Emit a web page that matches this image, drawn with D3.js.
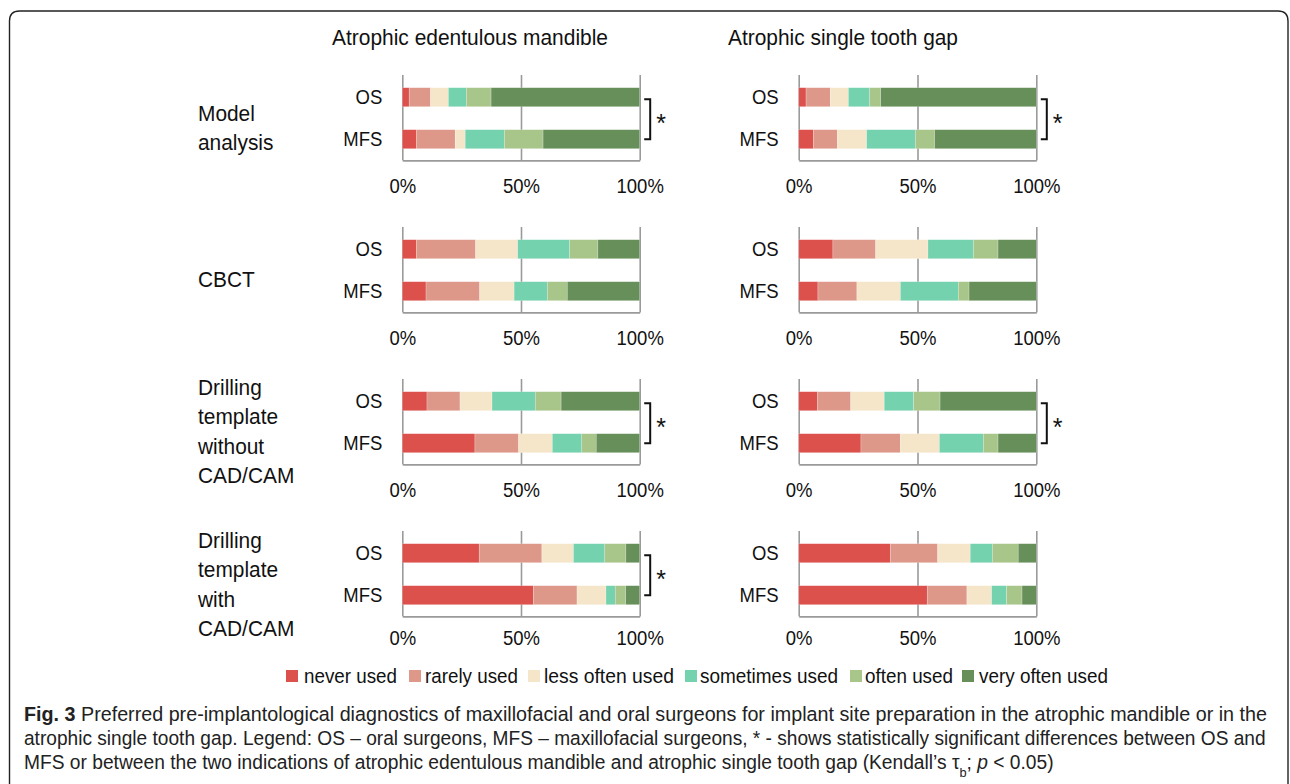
<!DOCTYPE html>
<html><head><meta charset="utf-8">
<script src="https://cdn.jsdelivr.net/npm/d3@7"></script>
<style>
html,body{margin:0;padding:0;background:#fff;}
svg{display:block;font-family:"Liberation Sans",Arial,sans-serif;}
</style></head>
<body>
<svg id="chart" width="1290" height="784"></svg>
<script>
// ---------- data ----------
const categories = ["never used","rarely used","less often used","sometimes used","often used","very often used"];
const colors = ["#DC514C","#DE988A","#F6E6C9","#74D2AE","#A8C58A","#668F59"];
const panels = ["Atrophic edentulous mandible","Atrophic single tooth gap"];
const rows = [["Model","analysis"],["CBCT"],["Drilling","template","without","CAD/CAM"],["Drilling","template","with","CAD/CAM"]];
const groups = ["OS","MFS"];
const tickValues = [0,50,100];
const tickLabels = ["0%","50%","100%"];

const mandibleOS = [
  [2.9, 9.0, 7.5, 7.6, 10.4, 62.6],
  [5.9, 25.0, 17.7, 21.9, 11.9, 17.6],
  [10.4, 13.9, 13.5, 18.2, 10.9, 33.1],
  [32.4, 26.4, 13.3, 13.2, 8.9, 5.8]];
const mandibleMFS = [
  [6.0, 16.3, 4.2, 16.5, 16.3, 40.7],
  [10.0, 22.6, 14.5, 14.0, 8.4, 30.5],
  [30.6, 18.4, 14.2, 12.4, 6.1, 18.3],
  [55.2, 18.4, 12.2, 3.9, 4.4, 5.9]];
const gapOS = [
  [3.1, 10.2, 7.6, 9.0, 4.6, 65.5],
  [14.4, 18.0, 22.0, 19.1, 10.4, 16.1],
  [7.9, 14.0, 14.1, 12.4, 11.1, 40.5],
  [38.6, 19.9, 13.7, 9.3, 10.9, 7.6]];
const gapMFS = [
  [6.2, 10.1, 12.3, 20.5, 8.1, 42.8],
  [8.1, 16.4, 18.3, 24.4, 4.5, 28.3],
  [26.2, 16.6, 16.4, 18.5, 6.2, 16.1],
  [54.1, 16.7, 10.4, 6.3, 6.5, 6.0]];
const mandibleSig = [true,false,true,true];
const gapSig = [true,false,true,false];

const captionLines = [
  [{t:"Fig. 3",b:true},{t:" Preferred pre-implantological diagnostics of maxillofacial and oral surgeons for implant site preparation in the atrophic mandible or in the"}],
  [{t:"atrophic single tooth gap. Legend: OS \u2013 oral surgeons, MFS \u2013 maxillofacial surgeons, * - shows statistically significant differences between OS and"}],
  [{t:"MFS or between the two indications of atrophic edentulous mandible and atrophic single tooth gap (Kendall\u2019s \u03c4"},{t:"b",sub:true},{t:"; "},{t:"p",i:true},{t:" < 0.05)"}]
];

// ---------- layout ----------
const svg = d3.select("#chart");
const panelData = [
  {title: panels[0], os: mandibleOS, mfs: mandibleMFS, sig: mandibleSig, range:[402.3,639.7], titleX:332, titleW:276},
  {title: panels[1], os: gapOS, mfs: gapMFS, sig: gapSig, range:[798.7,1036.3], titleX:728, titleW:230}
];
const rowScale = d3.scalePoint().domain(d3.range(rows.length)).range([0,456]);
const groupScale = d3.scalePoint().domain(groups).range([97.2,139.2]);
const barH = 19;
const axisOffset = 160.4;
const gridTop = 75;

function fit(sel, w){ sel.attr("textLength",w).attr("lengthAdjust","spacingAndGlyphs"); }

// frame
svg.append("path")
  .attr("d","M9.5,784 V21 Q9.5,11 19.5,11 H1278 Q1288,11 1288,21 V784")
  .attr("fill","none").attr("stroke","#222").attr("stroke-width",1.4);

// panel titles
panelData.forEach(p=>{
  svg.append("text").attr("x",p.titleX).attr("y",45)
    .attr("font-size",22.5).attr("fill","#111").text(p.title).call(fit,p.titleW);
});

// row labels
const rowLabelY0 = [113, 279, 387, 540];
rows.forEach((lines,ri)=>{
  const t = svg.append("text").attr("x",198).attr("font-size",22).attr("fill","#111");
  lines.forEach((ln,li)=>{
    t.append("tspan").attr("x",198).attr("y",rowLabelY0[ri]+li*29.3+8).text(ln);
  });
  t.attr("transform","translate(198,0) scale(0.95,1) translate(-198,0)");
});

panelData.forEach(p=>{
  const x = d3.scaleLinear().domain([0,100]).range(p.range);
  rows.forEach((_,ri)=>{
    const off = rowScale(ri);
    const g = svg.append("g").attr("transform",`translate(0,${off})`);
    const ax = g.append("g").attr("transform",`translate(0,${axisOffset})`)
      .call(d3.axisBottom(x).tickValues(tickValues).tickFormat((d,i)=>tickLabels[i])
        .tickSize(-(axisOffset-gridTop)).tickSizeOuter(0).tickPadding(ri===3 ? 15 : 19));
    ax.select(".domain").attr("stroke","#9a9a9a").attr("stroke-width",1.6);
    ax.selectAll(".tick line").attr("stroke","#9a9a9a").attr("stroke-width",1.6);
    ax.selectAll(".tick text").attr("font-size",19.5).attr("fill","#111")
      .attr("font-family","'Liberation Sans',Arial,sans-serif")
      .attr("transform","scale(0.95,1)");

    groups.forEach(gr=>{
      const vals = gr==="OS" ? p.os[ri] : p.mfs[ri];
      const cum = d3.cumsum(vals);
      const segs = vals.map((v,i)=>({v, x0: i?cum[i-1]:0, x1: cum[i], i}));
      const cy = groupScale(gr);
      g.selectAll(null).data(segs).enter().append("rect")
        .attr("x",d=>x(d.x0)).attr("width",d=>x(d.x1)-x(d.x0))
        .attr("y",cy-barH/2).attr("height",barH)
        .attr("fill",d=>colors[d.i])
        .attr("stroke","#ffffff").attr("stroke-opacity",0.35).attr("stroke-width",0.6);
      const lx = p.range[0]-20;
      g.append("text").attr("x",lx).attr("y",cy).attr("dy","0.35em")
        .attr("text-anchor","end").attr("font-size",19.5).attr("fill","#111").text(gr)
        .attr("transform",`translate(${lx},0) scale(0.95,1) translate(${-lx},0)`);
    });

    if (p.sig[ri]) {
      const bx = p.range[1]+10.5;
      const y1 = groupScale("OS")+2, y2 = groupScale("MFS");
      g.append("path").attr("d",`M${bx-6},${y1} H${bx} V${y2} H${bx-6}`)
        .attr("fill","none").attr("stroke","#111").attr("stroke-width",2);
      g.append("text").attr("x",bx+6).attr("y",(y1+y2)/2+13).attr("font-size",25)
        .attr("fill","#111").text("*");
    }
  });
});

// legend
const legendX = [286,409,528,685,850,962];
const legendTextX = [304,425,544,700,865,979];
const legendTextW = [93,93,130,138,88,129];
const lg = svg.append("g");
categories.forEach((c,i)=>{
  lg.append("rect").attr("x",legendX[i]).attr("y",670).attr("width",12).attr("height",12).attr("fill",colors[i]);
  lg.append("text").attr("x",legendTextX[i]).attr("y",676).attr("dy","0.35em")
    .attr("font-size",20.5).attr("fill","#111").text(c).call(fit,legendTextW[i]);
});

// caption
const capBase = [721,745,769];
const capW = [1243,1243,1030];
captionLines.forEach((line,li)=>{
  const t = svg.append("text").attr("x",24).attr("y",capBase[li])
    .attr("font-size",19.5).attr("fill","#222")
    .attr("font-family","'Liberation Sans Narrow','Liberation Sans',Arial,sans-serif");
  line.forEach(s=>{
    const ts = t.append("tspan").text(s.t);
    if (s.b) ts.attr("font-weight","bold");
    if (s.i) ts.attr("font-style","italic");
    if (s.sub) ts.attr("baseline-shift","sub").attr("font-size",13);
  });
  const w = t.node().getComputedTextLength();
  const sx = capW[li]/w;
  t.attr("transform",`translate(24,0) scale(${sx},1) translate(-24,0)`);
});
</script>
</body></html>
